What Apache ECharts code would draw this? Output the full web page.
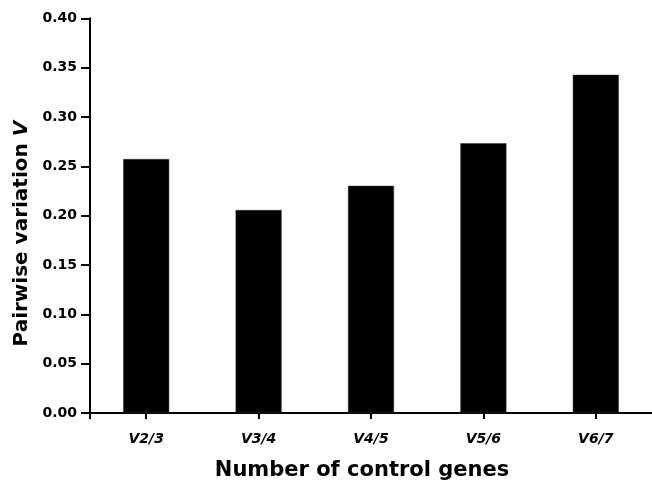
<!DOCTYPE html>
<html>
<head>
<meta charset="utf-8">
<script src="https://cdn.jsdelivr.net/npm/echarts@6/dist/echarts.min.js"></script>
<style>
html,body{margin:0;padding:0;background:#fff;}
#chart{width:652px;height:486px;}
</style>
</head>
<body>
<div id="chart"></div>
<script>
const categories = ['V2/3', 'V3/4', 'V4/5', 'V5/6', 'V6/7'];
const pairwiseV = [0.2574, 0.2057, 0.2302, 0.2734, 0.3427];
const yMin = 0, yMax = 0.40, yStep = 0.05;

const FONT = '"DejaVu Sans", "Liberation Sans", Arial, sans-serif';
const chart = echarts.init(document.getElementById('chart'), null, {renderer: 'canvas'});
chart.setOption({
  backgroundColor: '#ffffff',
  animation: false,
  grid: {left: 90, right: 0, top: 18.3, bottom: 69.5, containLabel: false},
  xAxis: {
    type: 'category',
    data: categories,
    boundaryGap: true,
    name: 'Number of control genes',
    nameLocation: 'middle',
    nameGap: 47,
    nameTextStyle: {fontFamily: FONT, fontWeight: 'bold', fontSize: 21, color: '#000', padding: [0, 18, 0, 0]},
    axisLine: {lineStyle: {color: '#000', width: 2}},
    axisTick: {show: true, alignWithLabel: true, length: 6, lineStyle: {color: '#000', width: 2}},
    axisLabel: {fontFamily: FONT, fontStyle: 'italic', fontWeight: 'bold', fontSize: 14, color: '#000', margin: 19},
    splitLine: {show: false}
  },
  yAxis: {
    type: 'value',
    min: yMin, max: yMax, interval: yStep,
    name: 'Pairwise variation {i|V}',
    nameLocation: 'middle',
    nameGap: 54,
    nameTextStyle: {
      fontFamily: FONT, fontWeight: 'bold', fontSize: 20, color: '#000', padding: [0, 36, 0, 0],
      rich: {i: {fontFamily: FONT, fontWeight: 'bold', fontStyle: 'italic', fontSize: 20, color: '#000'}}
    },
    axisLine: {show: true, lineStyle: {color: '#000', width: 2}},
    axisTick: {show: true, length: 9, lineStyle: {color: '#000', width: 2}},
    axisLabel: {fontFamily: FONT, fontWeight: 'bold', fontSize: 14, color: '#000', margin: 13,
      formatter: v => v.toFixed(2)},
    splitLine: {show: false}
  },
  series: [{
    type: 'bar',
    data: pairwiseV,
    barWidth: 46,
    itemStyle: {color: '#000', borderColor: '#333', borderWidth: 0.5}
  }]
});

// small downward stub of the y axis below the origin (axis decoration)
const c0 = chart.convertToPixel({xAxisIndex: 0}, categories[0]);
const c1 = chart.convertToPixel({xAxisIndex: 0}, categories[1]);
const yAxisX = c0 - (c1 - c0) / 2;
const y0 = chart.convertToPixel({yAxisIndex: 0}, 0);
chart.setOption({
  graphic: [{
    type: 'line', silent: true,
    shape: {x1: yAxisX, y1: y0, x2: yAxisX, y2: y0 + 6},
    style: {stroke: '#000', lineWidth: 2}
  }]
});
</script>
</body>
</html>
